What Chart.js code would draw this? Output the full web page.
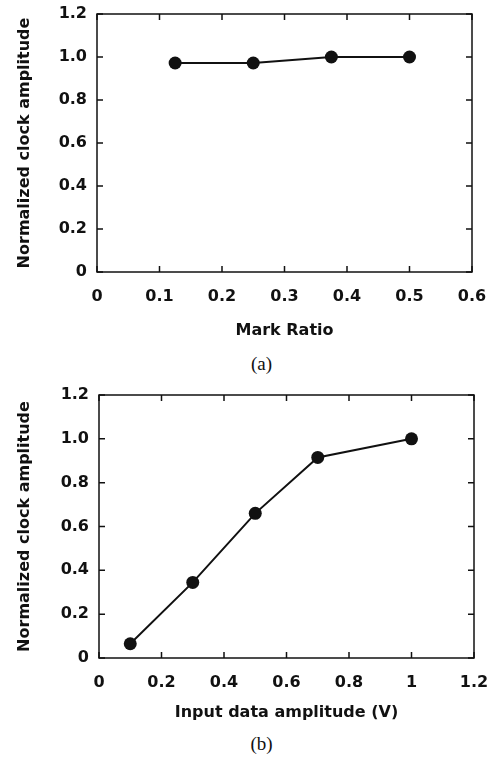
<!DOCTYPE html>
<html>
<head>
<meta charset="utf-8">
<script src="https://cdn.jsdelivr.net/npm/chart.js@4"></script>
<style>
    body { margin: 0; background: #fff; width: 493px; height: 757px; position: relative; overflow: hidden; }
    .panel { position: absolute; left: 0; }
    .caption { position: absolute; width: 100%; text-align: center; font-family: "Liberation Serif", serif; font-size: 19px; line-height: 22px; color: #111; }
</style>
</head>
<body>
<div class="panel" style="top:0"><canvas id="chartA" width="493" height="350"></canvas></div>
<div class="caption" style="left:15px; top:353px">(a)</div>
<div class="panel" style="top:375px"><canvas id="chartB" width="493" height="350"></canvas></div>
<div class="caption" style="left:15px; top:733px">(b)</div>
<script>
// panel (a)
const markRatio = [0.125, 0.25, 0.375, 0.5];
const clockAmpA = [0.972, 0.972, 1.0, 1.0];
const xTicksA = ['0', '0.1', '0.2', '0.3', '0.4', '0.5', '0.6'];

// panel (b)
const inputAmp = [0.1, 0.3, 0.5, 0.7, 1.0];
const clockAmpB = [0.065, 0.345, 0.66, 0.915, 1.0];
const xTicksB = ['0', '0.2', '0.4', '0.6', '0.8', '1', '1.2'];

const yTicks = ['0', '0.2', '0.4', '0.6', '0.8', '1.0', '1.2'];

const ink = '#111';
const font = { family: 'DejaVu Sans', weight: 'bold', size: 16 };

// box round the plot plus inward tick marks on all four sides
const framePlugin = {
    id: 'frame',
    afterDraw(chart) {
        const { ctx, chartArea: a, scales } = chart;
        const len = 6;
        ctx.save();
        ctx.strokeStyle = ink;
        ctx.lineWidth = 1.5;
        ctx.strokeRect(a.left, a.top, a.right - a.left, a.bottom - a.top);
        ctx.beginPath();
        scales.x.ticks.forEach(t => {
            const px = scales.x.getPixelForValue(t.value);
            ctx.moveTo(px, a.bottom); ctx.lineTo(px, a.bottom - len);
            ctx.moveTo(px, a.top); ctx.lineTo(px, a.top + len);
        });
        scales.y.ticks.forEach(t => {
            const py = scales.y.getPixelForValue(t.value);
            ctx.moveTo(a.left, py); ctx.lineTo(a.left + len, py);
            ctx.moveTo(a.right, py); ctx.lineTo(a.right - len, py);
        });
        ctx.stroke();
        ctx.restore();
    }
};

function makeChart(id, xs, ys, xMax, xStep, xLabels, xTitle, opts) {
    const ctx = document.getElementById(id).getContext('2d');
    return new Chart(ctx, {
        type: 'scatter',
        data: {
            datasets: [{
                data: xs.map((x, i) => ({ x: x, y: ys[i] })),
                showLine: true,
                borderColor: ink,
                borderWidth: 2,
                backgroundColor: ink,
                pointRadius: 6.5,
                pointBorderWidth: 0
            }]
        },
        options: {
            responsive: false,
            animation: false,
            devicePixelRatio: 1,
            layout: { padding: { top: opts.top, right: opts.right, left: 0, bottom: 0 } },
            plugins: { legend: { display: false }, tooltip: { enabled: false } },
            scales: {
                x: {
                    type: 'linear',
                    min: 0,
                    max: xMax,
                    grid: { display: false, drawTicks: false },
                    border: { display: false },
                    ticks: {
                        stepSize: xStep,
                        color: ink,
                        font: font,
                        padding: 15,
                        maxRotation: 0,
                        callback: (v, i) => xLabels[i]
                    },
                    title: { display: true, text: xTitle, color: ink, font: font, padding: { top: 0, bottom: opts.titleBottom } },
                    afterFit: s => {
                        s.height = opts.xHeight;
                        s.paddingLeft = 0;
                        s.paddingRight = 0;
                    }
                },
                y: {
                    min: 0,
                    max: 1.2,
                    grid: { display: false, drawTicks: false },
                    border: { display: false },
                    ticks: {
                        stepSize: 0.2,
                        color: ink,
                        font: font,
                        padding: 10,
                        callback: (v, i) => yTicks[i]
                    },
                    title: { display: true, text: 'Normalized clock amplitude', color: ink, font: font, padding: { top: 15, bottom: 0 } },
                    afterFit: s => {
                        s.width = opts.yWidth;
                        s.paddingTop = 0;
                        s.paddingBottom = 0;
                    }
                }
            }
        },
        plugins: [framePlugin]
    });
}

makeChart('chartA', markRatio, clockAmpA, 0.6, 0.1, xTicksA, 'Mark Ratio',
    { top: 14, right: 21, xHeight: 78, yWidth: 97, titleBottom: 10 });
makeChart('chartB', inputAmp, clockAmpB, 1.2, 0.2, xTicksB, 'Input data amplitude (V)',
    { top: 20, right: 19, xHeight: 67, yWidth: 99, titleBottom: 3 });
</script>
</body>
</html>
